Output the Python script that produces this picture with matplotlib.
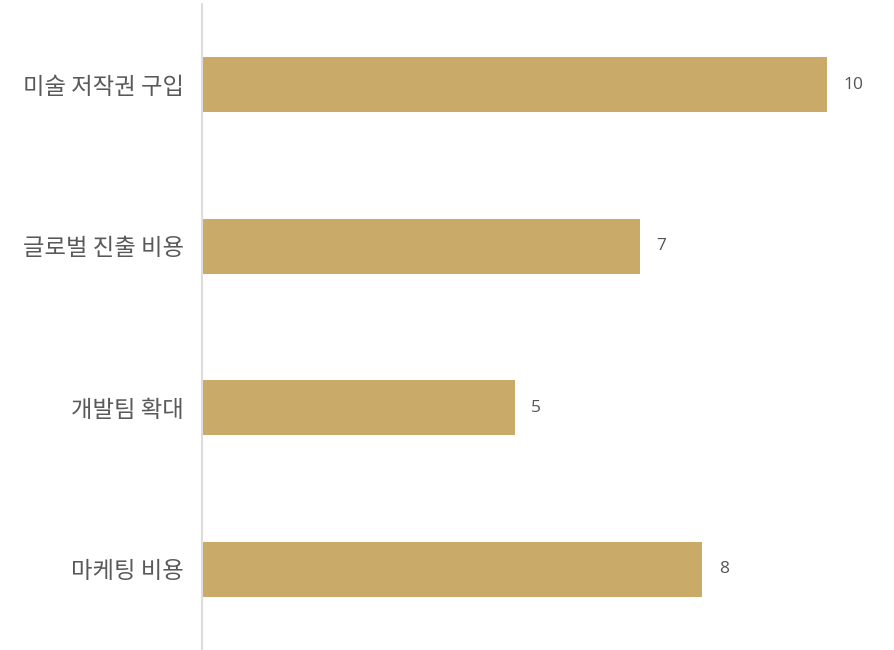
import matplotlib
matplotlib.use("Agg")
import matplotlib.pyplot as plt

plt.rcParams['font.family'] = ['Noto Sans CJK KR', 'DejaVu Sans']

categories = ["미술 저작권 구입", "글로벌 진출 비용", "개발팀 확대", "마케팅 비용"]
values = [10, 7, 5, 8]

fig = plt.figure(figsize=(8.94, 6.5), dpi=100)
ax = fig.add_axes([202 / 894, 0, 692 / 894, 646 / 650])

ypos = list(range(len(categories)))
ax.barh(ypos, values, height=0.34, color="#C9AA69")
for y, v in zip(ypos, values):
    ax.text(v + 0.27, y, str(v), va="center", ha="left", fontsize=12.5,
            color="#555555", family=["Open Sans", "DejaVu Sans"])

ax.set_xlim(0, 692 / 62.5)
ax.set_ylim(3.5, -0.5)
ax.set_yticks(ypos)
ax.set_yticklabels(categories, fontsize=16.8, color="#595959")
ax.tick_params(axis="y", length=0, pad=13)
ax.set_xticks([])
for s in ["top", "right", "bottom"]:
    ax.spines[s].set_visible(False)
ax.spines["left"].set_color("#dddddd")
ax.spines["left"].set_linewidth(1.5)

fig.savefig("out.png", dpi=100)
